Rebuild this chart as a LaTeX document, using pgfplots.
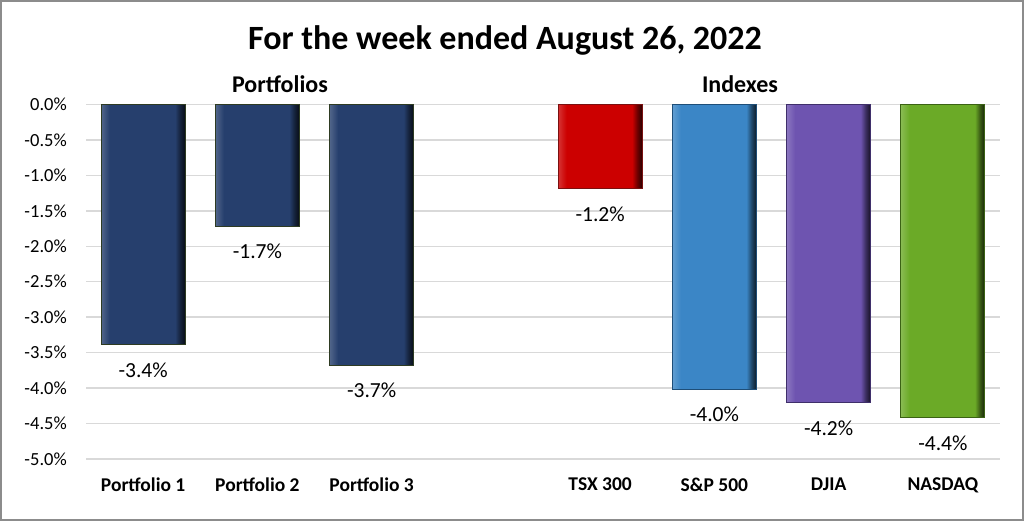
\documentclass[border=0pt]{standalone}
\usepackage{fontspec}
\setmainfont{Carlito}
\usepackage{pgfplots}
\pgfplotsset{compat=1.18}

\definecolor{navy}{HTML}{263F6D}
\definecolor{navydark}{HTML}{2E3B22}
\definecolor{tsxred}{HTML}{CC0000}
\definecolor{tsxdark}{HTML}{7A1010}
\definecolor{spblue}{HTML}{3B86C6}
\definecolor{spdark}{HTML}{1E4E78}
\definecolor{djpurple}{HTML}{6E54B0}
\definecolor{djdark}{HTML}{3F2F6A}
\definecolor{nqgreen}{HTML}{6BAA27}
\definecolor{nqdark}{HTML}{3B6214}
\definecolor{gridgray}{HTML}{D9D9D9}
\definecolor{framegray}{HTML}{8C8C8C}

% left/right bevel of the bars (path box maps to 25bp..75bp)
\newcommand\bevelshade[2]{%
    \pgfdeclarehorizontalshading{#1}{100bp}{%
        color(0bp)=(#2!80!white); color(25bp)=(#2!80!white);
        color(30bp)=(#2); color(69bp)=(#2);
        color(72bp)=(#2!55!black); color(75bp)=(#2!20!black);
        color(100bp)=(#2!20!black)}}
\bevelshade{navybevel}{navy}
\bevelshade{tsxbevel}{tsxred}
\bevelshade{spbevel}{spblue}
\bevelshade{djbevel}{djpurple}
\bevelshade{nqbevel}{nqgreen}

\begin{document}
\begin{tikzpicture}[x=1bp,y=1bp]
    \useasboundingbox (0,0) rectangle (1024,521);
    \draw[framegray, line width=2bp] (1,1) rectangle (1023,520);

    \node[anchor=base, font=\fontsize{34bp}{40bp}\selectfont\bfseries] at (505,471.5)
        {For the week ended August 26, 2022};
    \node[anchor=base, font=\fontsize{24bp}{28bp}\selectfont\bfseries] at (280,428) {Portfolios};
    \node[anchor=base, font=\fontsize{24bp}{28bp}\selectfont\bfseries] at (740,428) {Indexes};

    \begin{axis}[
            at={(86bp,62bp)},
            anchor=south west,
            scale only axis,
            width=914bp,
            height=354.5bp,
            ybar,
            bar width=84bp,
            bar shift=0pt,
            xmin=-0.5, xmax=7.5,
            ymin=-5, ymax=0,
            axis line style={draw=none},
            major tick length=0pt,
            ytick={-5,-4.5,-4,-3.5,-3,-2.5,-2,-1.5,-1,-0.5,0},
            ymajorgrids,
            grid style={gridgray, line width=1.5bp},
            xtick={0,1,2,4,5,6,7},
            xticklabels={Portfolio 1, Portfolio 2, Portfolio 3, TSX 300, S\&P 500, DJIA, NASDAQ},
            xticklabel style={font=\fontsize{19.5bp}{23bp}\selectfont\bfseries, anchor=north, inner sep=0pt, yshift=-19bp},
            /pgf/number format/assume math mode=true,
            yticklabel={\pgfmathprintnumber[fixed,fixed zerofill,precision=1]{\tick}\%},
            yticklabel style={font=\fontsize{18.5bp}{22bp}\selectfont, anchor=east, inner sep=0pt, xshift=-19bp},
            nodes near coords={\pgfmathprintnumber[fixed,fixed zerofill,precision=1]{\pgfplotspointmeta}\%},
            every node near coord/.append style={font=\fontsize{21.5bp}{25bp}\selectfont, anchor=north, inner sep=0pt, yshift=-17bp},
        ]

        % portfolios, one plot each so the shading fits each bar
        \addplot[shading=navybevel, draw=navydark, line width=1bp]
            coordinates {(0, -3.39)};
        \addplot[shading=navybevel, draw=navydark, line width=1bp]
            coordinates {(1, -1.72)};
        \addplot[shading=navybevel, draw=navydark, line width=1bp]
            coordinates {(2, -3.68)};

        % indexes
        \addplot[shading=tsxbevel, draw=tsxdark, line width=1bp]
            coordinates {(4, -1.19)};
        \addplot[shading=spbevel, draw=spdark, line width=1bp]
            coordinates {(5, -4.02)};
        \addplot[shading=djbevel, draw=djdark, line width=1bp]
            coordinates {(6, -4.21)};
        \addplot[shading=nqbevel, draw=nqdark, line width=1bp]
            coordinates {(7, -4.42)};
    \end{axis}
\end{tikzpicture}
\end{document}
